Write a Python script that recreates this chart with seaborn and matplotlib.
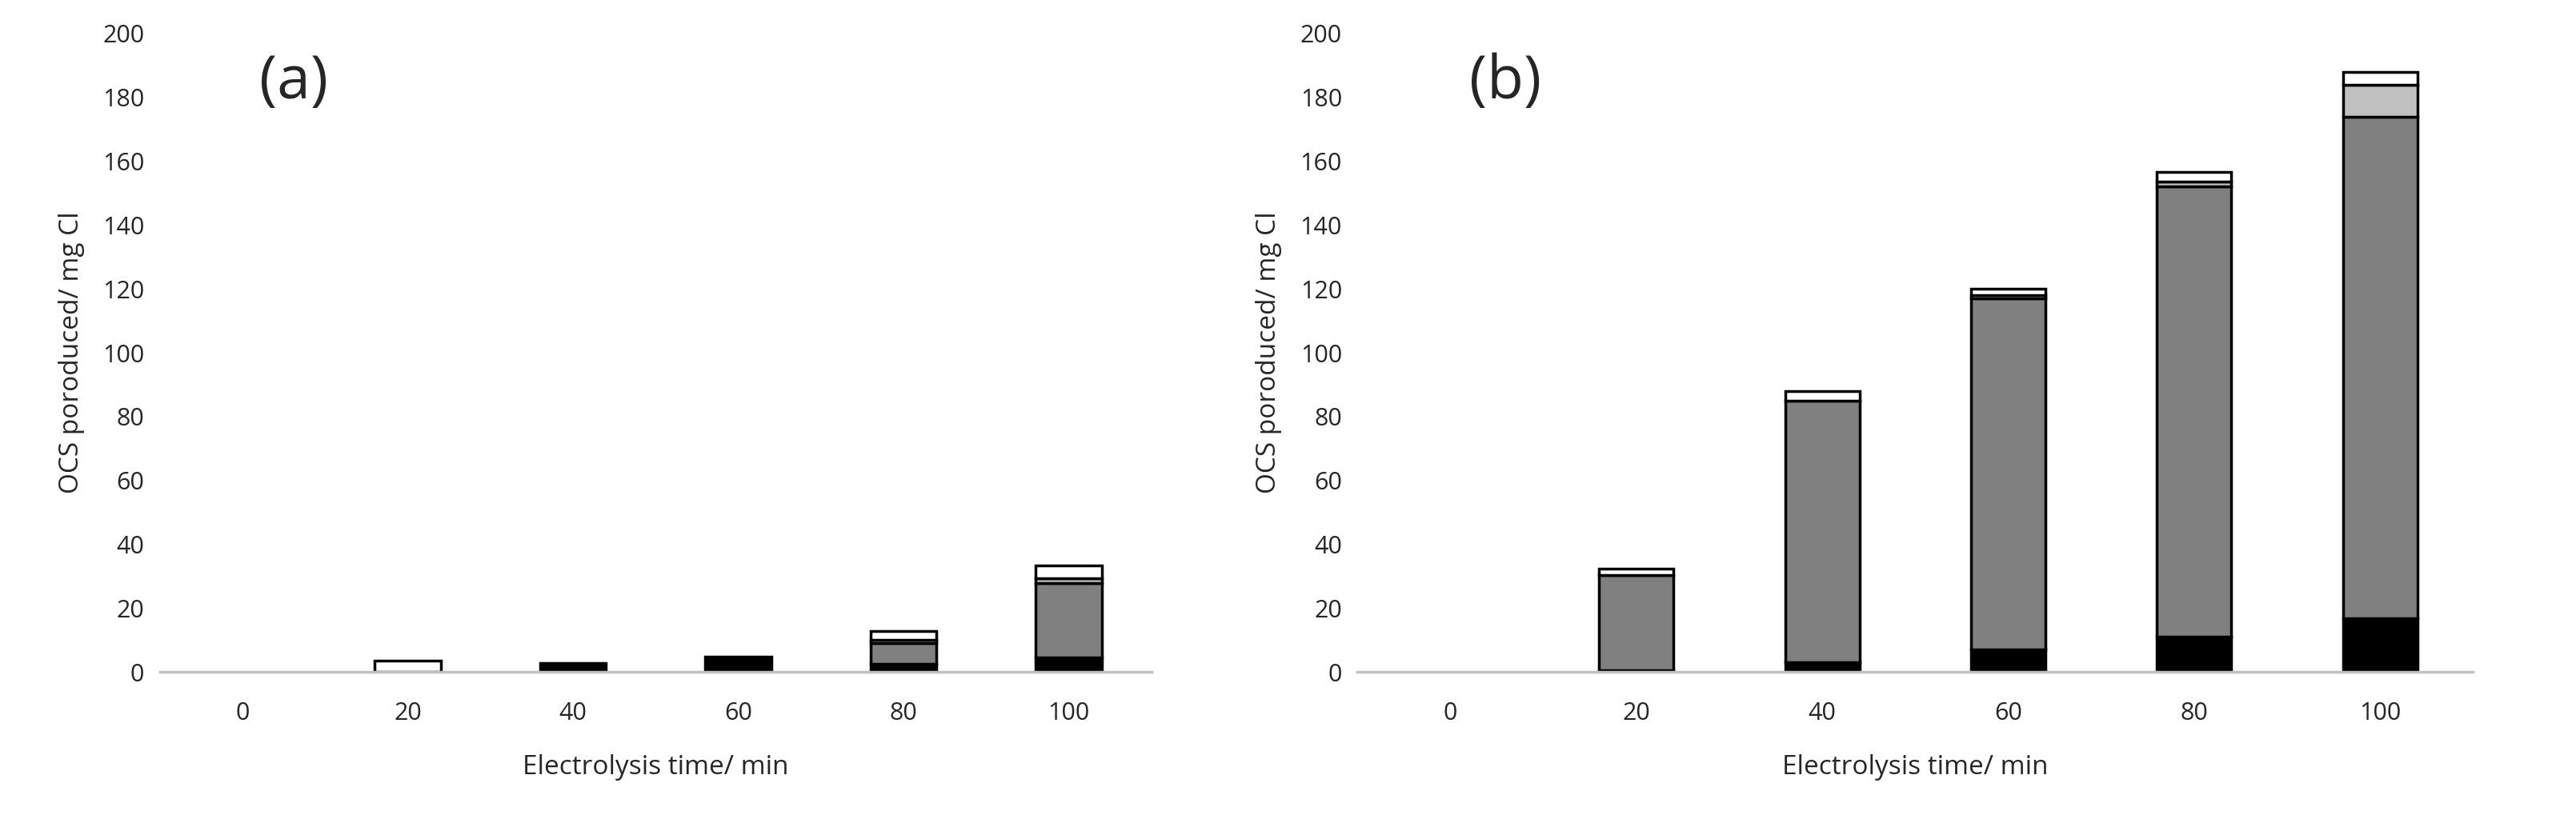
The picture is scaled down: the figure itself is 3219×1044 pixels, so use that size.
import matplotlib
matplotlib.use("Agg")
import matplotlib.pyplot as plt
import seaborn as sns
import pandas as pd
import numpy as np

sns.set_theme(style="white")
plt.rcParams['font.family'] = ['Open Sans', 'DejaVu Sans']

times = ["0", "20", "40", "60", "80", "100"]
a_black = [0, 0, 2.8, 4.9, 2.5, 4.5]
a_gray = [0, 0, 0, 0, 6.5, 23.5]
a_light = [0, 0, 0, 0, 1.0, 1.5]
a_white = [0, 3.5, 0, 0, 3.0, 4.0]
b_black = [0, 0.5, 3, 7, 11, 17]
b_gray = [0, 30, 82, 110, 141, 157]
b_light = [0, 0, 0, 1, 1.5, 10]
b_white = [0, 2, 3, 2, 3, 4]

colors = ["#000000", "#808080", "#C0C0C0", "#FFFFFF"]

fig = plt.figure(figsize=(32.19, 10.44), dpi=100)
ax1 = fig.add_axes([0.062, 0.195, 0.385, 0.765])
ax2 = fig.add_axes([0.527, 0.195, 0.433, 0.765])

def draw(ax, series, label):
    bottom = np.zeros(len(times))
    for vals, c in zip(series, colors):
        df = pd.DataFrame({"t": times, "v": vals})
        sns.barplot(data=df, x="t", y="v", ax=ax, color=c, saturation=1,
                    bottom=bottom, width=0.4, edgecolor="black", linewidth=2.5,
                    errorbar=None)
        bottom = bottom + np.array(vals)
    for p in ax.patches:
        if p.get_height() == 0:
            p.set_visible(False)
    ax.set_ylim(0, 200)
    ax.set_yticks(range(0, 201, 20))
    ax.tick_params(axis='y', labelsize=22, length=0, pad=14)
    ax.tick_params(axis='x', labelsize=22, length=0, pad=26)
    ax.set_xlabel("Electrolysis time/ min", fontsize=24, labelpad=26)
    ax.set_ylabel("OCS poroduced/ mg Cl", fontsize=24, labelpad=16)
    for s in ["top", "right", "left"]:
        ax.spines[s].set_visible(False)
    ax.spines["bottom"].set_color("#BFBFBF")
    ax.spines["bottom"].set_linewidth(2.5)
    ax.text(0.10, 0.97, label, transform=ax.transAxes, fontsize=54, va="top")

draw(ax1, [a_black, a_gray, a_light, a_white], "(a)")
draw(ax2, [b_black, b_gray, b_light, b_white], "(b)")

fig.savefig("out.png", dpi=100)
